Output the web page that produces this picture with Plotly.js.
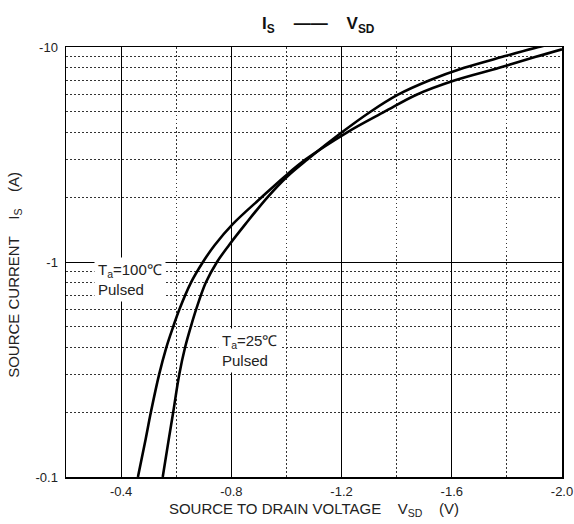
<!DOCTYPE html>
<html>
<head>
<meta charset="utf-8">
<script src="https://cdn.plot.ly/plotly-3.0.1.min.js"></script>
<style>html,body{margin:0;padding:0;background:#fff;}#chart{width:574px;height:524px;}</style>
</head>
<body>
<div id="chart"></div>
<script>
// Magnitudes: source-to-drain voltage |V_SD| (V) and source current |I_S| (A)
const v100 = [0.461, 0.489, 0.508, 0.538, 0.564, 0.589, 0.611, 0.653, 0.697, 0.740, 0.805, 0.910, 0.994, 1.070, 1.219, 1.356, 1.472, 1.612, 1.772, 1.905, 2.000];
const i100 = [0.10, 0.15, 0.20, 0.30, 0.40, 0.50, 0.60, 0.80, 1.00, 1.20, 1.50, 2.00, 2.50, 3.00, 4.00, 5.00, 6.00, 7.00, 8.00, 9.00, 9.75];
const v25 = [0.551, 0.573, 0.589, 0.611, 0.632, 0.653, 0.672, 0.707, 0.748, 0.792, 0.851, 0.931, 1.003, 1.076, 1.200, 1.305, 1.405, 1.520, 1.645, 1.784, 1.915, 2.000];
const i25 = [0.10, 0.15, 0.20, 0.30, 0.40, 0.50, 0.60, 0.80, 1.00, 1.20, 1.50, 2.00, 2.50, 3.00, 4.00, 5.00, 6.00, 7.00, 8.00, 9.00, 10.0, 10.6];
const xTickVals = [0.4, 0.8, 1.2, 1.6, 2.0];
const xTickText = ["-0.4", "-0.8", "-1.2", "-1.6", "-2.0"];
const yTickVals = [0.1, 1, 10];
const yTickText = ["-0.1", "-1", "-10"];

const font = "Liberation Sans, Arial, sans-serif";
const lineStyle = {color: "#000", width: 2.6, shape: "spline", smoothing: 1};
const traces = [
  {x: v100, y: i100, mode: "lines", line: lineStyle, hoverinfo: "skip"},
  {x: v25, y: i25, mode: "lines", line: lineStyle, hoverinfo: "skip"}
];
const layout = {
  width: 574, height: 524,
  margin: {l: 66, r: 12, t: 47, b: 47},
  paper_bgcolor: "#fff", plot_bgcolor: "#fff",
  showlegend: false,
  font: {family: font, color: "#222", size: 13},
  title: {text: "<b>I<sub>S</sub>    ——    V<sub>SD</sub></b>", font: {family: font, size: 17, color: "#111"}, x: 0.5545, xanchor: "center", y: 0.956, yanchor: "middle"},
  xaxis: {
    range: [0.2, 2.0], tickvals: xTickVals, ticktext: xTickText, ticks: "",
    showgrid: true, gridcolor: "#000", gridwidth: 1,
    minor: {dtick: 0.2, tick0: 0.2, showgrid: true, gridcolor: "#333", griddash: "1.5px,2.5px", gridwidth: 1},
    showline: true, linecolor: "#000", linewidth: 1.5, mirror: true, zeroline: false,
    tickfont: {size: 13, color: "#222"}, ticklabelstandoff: 2,
    title: {text: "SOURCE TO DRAIN VOLTAGE    V<sub>SD</sub>    (V)", font: {size: 15, color: "#222"}, standoff: 5},
    fixedrange: true
  },
  yaxis: {
    type: "log", range: [-1, 1], tickvals: yTickVals, ticktext: yTickText, ticks: "",
    showgrid: true, gridcolor: "#000", gridwidth: 1,
    minor: {dtick: "D1", showgrid: true, gridcolor: "#333", griddash: "1.5px,2.5px", gridwidth: 1},
    showline: true, linecolor: "#000", linewidth: 1.5, mirror: true, zeroline: false,
    tickfont: {size: 13, color: "#222"}, ticklabelstandoff: 4,
    fixedrange: true
  },
  annotations: [
    {x: -0.103, y: 0.47, xref: "paper", yref: "paper", textangle: -90, xanchor: "center", yanchor: "middle", text: "SOURCE CURRENT    I<sub>S</sub>    (A)", showarrow: false, font: {size: 15, color: "#222"}},
    {x: 0.431, y: -0.080, xref: "x", yref: "y", text: "T<sub>a</sub>=100℃<br>Pulsed", align: "left", showarrow: false, bgcolor: "#fff", borderpad: 3, font: {size: 15, color: "#222"}},
    {x: 0.865, y: -0.412, xref: "x", yref: "y", text: "T<sub>a</sub>=25℃<br>Pulsed", align: "left", showarrow: false, bgcolor: "#fff", borderpad: 3, font: {size: 15, color: "#222"}}
  ]
};
Plotly.newPlot("chart", traces, layout, {staticPlot: true, displayModeBar: false});
</script>
</body>
</html>
